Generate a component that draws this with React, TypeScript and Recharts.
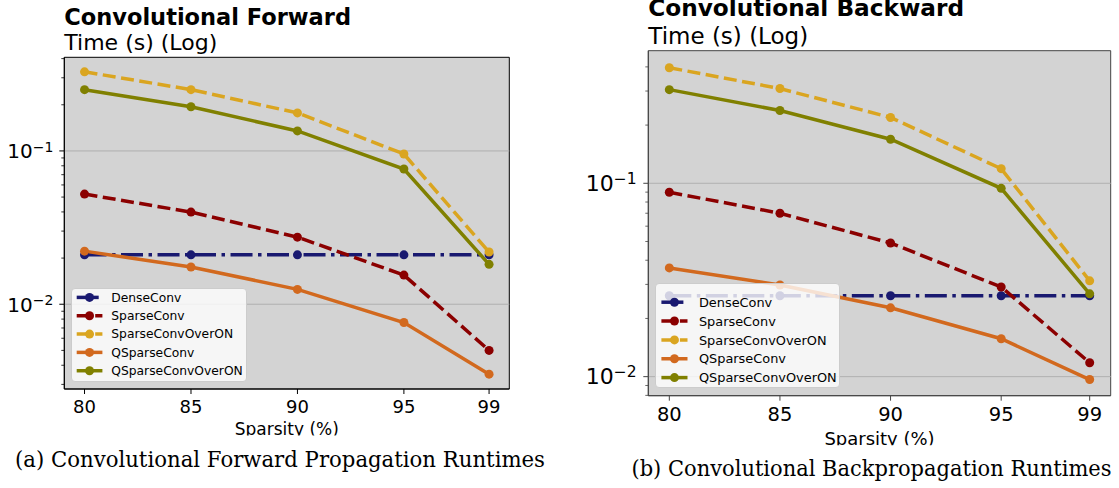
import React from 'react';
import { LineChart, Line, XAxis, YAxis, ReferenceArea, ReferenceLine, Legend } from 'recharts';

// sparsity levels (%) on the x axis
const sparsity = [80, 85, 90, 95, 99];
const xTicks = [80, 85, 90, 95, 99];
const xDomain = [79.05, 99.95];

// forward propagation runtimes (s)
const denseFwd = [0.021, 0.021, 0.021, 0.021, 0.021];
const sparseFwd = [0.0523, 0.0399, 0.0274, 0.0155, 0.005];
const sparseOnFwd = [0.328, 0.251, 0.177, 0.0955, 0.0219];
const qSparseFwd = [0.0222, 0.0175, 0.0125, 0.0076, 0.0035];
const qSparseOnFwd = [0.251, 0.194, 0.135, 0.0762, 0.0182];

// backpropagation runtimes (s)
const denseBwd = [0.0262, 0.0262, 0.0262, 0.0262, 0.0262];
const sparseBwd = [0.0899, 0.07, 0.0491, 0.0291, 0.0118];
const sparseOnBwd = [0.396, 0.309, 0.219, 0.119, 0.0313];
const qSparseBwd = [0.0365, 0.0298, 0.0227, 0.0157, 0.00966];
const qSparseOnBwd = [0.305, 0.238, 0.169, 0.0942, 0.0268];

const majorTicks = [0.01, 0.1];
const minorTicksFwd = [0.003, 0.004, 0.005, 0.006, 0.007, 0.008, 0.009, 0.02, 0.03, 0.04, 0.05, 0.06, 0.07, 0.08, 0.09, 0.2, 0.3, 0.4];
const minorTicksBwd = [0.008, 0.009, 0.02, 0.03, 0.04, 0.05, 0.06, 0.07, 0.08, 0.09, 0.2, 0.3, 0.4];

const seriesKeys = ['dense', 'sparse', 'sparseOn', 'qSparse', 'qSparseOn'];
const seriesNames = ['DenseConv', 'SparseConv', 'SparseConvOverON', 'QSparseConv', 'QSparseConvOverON'];
const seriesColors = ['#191970', '#8b0000', '#daa520', '#d2691e', '#808000'];
const seriesDashes = ['22 5.5 3.5 5.5', '13 5.5', '13 5.5', undefined, undefined];

const FONT = '"DejaVu Sans", sans-serif';
const LW = 3.5;

const buildRows = (cols: number[][]) =>
  sparsity.map((s, i) => {
    const row: any = { s };
    seriesKeys.forEach((k, j) => (row[k] = cols[j][i]));
    return row;
  });

const fwdRows = buildRows([denseFwd, sparseFwd, sparseOnFwd, qSparseFwd, qSparseOnFwd]);
const bwdRows = buildRows([denseBwd, sparseBwd, sparseOnBwd, qSparseBwd, qSparseOnBwd]);

// axis widths of 1px are added to these margins by recharts
const panels = [
  {
    id: 'fwd',
    rows: fwdRows,
    left: 0,
    width: 560,
    margin: { top: 57.3, left: 63.3, right: 50.7, bottom: 98 },
    yDomain: [0.0028, 0.408],
    minor: minorTicksFwd,
    xFont: 18,
    xTickMargin: 6,
    yFont: 20,
    supFont: 14,
    yGap: 11,
    yDy: 7.3,
    frame: '#000',
    legend: { x: 71.4, y: 288.3, w: 176, h: 93.4, row0: 9.4, step: 18.33, lx0: 4.7, lx1: 30.4, tx: 39.3, font: 12.3 },
  },
  {
    id: 'bwd',
    rows: bwdRows,
    left: 560,
    width: 559,
    margin: { top: 50.7, left: 87.3, right: 8.3, bottom: 91.3 },
    yDomain: [0.00797, 0.485],
    minor: minorTicksBwd,
    xFont: 19.5,
    xTickMargin: 6.3,
    yFont: 22,
    supFont: 15.5,
    yGap: 11.6,
    yDy: 7.7,
    frame: '#444',
    legend: { x: 94.6, y: 282.7, w: 185, h: 105.6, row0: 19.2, step: 18.85, lx0: 5.4, lx1: 31.5, tx: 42.9, font: 12.9 },
  },
];

function YTick(props: any) {
  const { x, y, payload, cfg } = props;
  const v = payload.value;
  const isMajor = majorTicks.includes(v);
  const len = isMajor ? 5 : 3;
  return (
    <g>
      <line x1={x - len} x2={x} y1={y} y2={y} stroke={cfg.frame} strokeWidth={isMajor ? 1 : 0.8} />
      {isMajor && (
        <text x={x - cfg.yGap} y={y + cfg.yDy} textAnchor="end" fontSize={cfg.yFont} fontFamily={FONT} fill="#000">
          10
          <tspan dy={-cfg.yFont * 0.32} fontSize={cfg.supFont}>
            {'\u2212' + Math.abs(Math.round(Math.log10(v)))}
          </tspan>
        </text>
      )}
    </g>
  );
}

function LegendBox({ cfg }: any) {
  const L = cfg.legend;
  return (
    <div
      style={{
        width: L.w,
        height: L.h,
        boxSizing: 'border-box',
        background: 'rgba(255,255,255,0.8)',
        border: '1px solid #cccccc',
        borderRadius: 4,
      }}
    >
      <svg width={L.w - 2} height={L.h - 2} style={{ display: 'block' }}>
        {seriesNames.map((name, i) => {
          const y = L.row0 + i * L.step - 1;
          return (
            <g key={name}>
              <line x1={L.lx0} x2={L.lx1} y1={y} y2={y} stroke={seriesColors[i]} strokeWidth={LW} strokeDasharray={seriesDashes[i]} />
              <circle cx={(L.lx0 + L.lx1) / 2} cy={y} r={4.5} fill={seriesColors[i]} />
              <text x={L.tx} y={y + L.font * 0.36} fontSize={L.font} fontFamily={FONT} fill="#000">
                {name}
              </text>
            </g>
          );
        })}
      </svg>
    </div>
  );
}

function Panel({ cfg }: any) {
  const ticks = [...majorTicks, ...cfg.minor].sort((a, b) => a - b);
  return (
    <div style={{ position: 'absolute', left: cfg.left, top: 0 }}>
      <LineChart width={cfg.width} height={488} data={cfg.rows} margin={cfg.margin} style={{ fontFamily: FONT }}>
        <XAxis
          dataKey="s"
          type="number"
          domain={xDomain}
          ticks={xTicks}
          allowDataOverflow
          interval={0}
          height={1}
          axisLine={{ stroke: cfg.frame, strokeWidth: 1 }}
          tickLine={{ stroke: cfg.frame }}
          tickSize={5}
          tickMargin={cfg.xTickMargin}
          tick={{ fill: '#000', fontSize: cfg.xFont, fontFamily: FONT }}
        />
        <YAxis
          type="number"
          scale="log"
          domain={cfg.yDomain}
          allowDataOverflow
          ticks={ticks}
          interval={0}
          width={1}
          axisLine={{ stroke: cfg.frame, strokeWidth: 1 }}
          tickLine={false}
          tickSize={0}
          tickMargin={0}
          tick={(p: any) => <YTick {...p} cfg={cfg} />}
        />
        <ReferenceArea
          x1={xDomain[0]}
          x2={xDomain[1]}
          y1={cfg.yDomain[0]}
          y2={cfg.yDomain[1]}
          fill="#d3d3d3"
          fillOpacity={1}
          stroke={cfg.frame}
          strokeWidth={1}
          ifOverflow="visible"
        />
        {majorTicks.map((t) => (
          <ReferenceLine key={t} y={t} stroke="#b0b0b0" strokeWidth={1} />
        ))}
        {seriesKeys.map((k, i) => (
          <Line
            key={k}
            dataKey={k}
            name={seriesNames[i]}
            stroke={seriesColors[i]}
            strokeWidth={LW}
            strokeDasharray={seriesDashes[i]}
            dot={{ r: 4.5, fill: seriesColors[i], stroke: seriesColors[i], strokeWidth: 0, strokeDasharray: 'none' }}
            activeDot={false}
            isAnimationActive={false}
          />
        ))}
        <Legend
          layout="horizontal"
          align="center"
          verticalAlign="middle"
          wrapperStyle={{ left: cfg.legend.x, top: cfg.legend.y, width: cfg.legend.w, height: cfg.legend.h }}
          content={() => <LegendBox cfg={cfg} />}
        />
      </LineChart>
    </div>
  );
}

export default function App() {
  return (
    <div style={{ position: 'absolute', left: 0, top: 0, width: 1119, height: 488, background: '#fff', overflow: 'hidden' }}>
      <svg width={1119} height={488} style={{ position: 'absolute', left: 0, top: 0 }}>
        <defs>
          <clipPath id="clipA">
            <rect x={0} y={0} width={560} height={435.5} />
          </clipPath>
          <clipPath id="clipB">
            <rect x={560} y={0} width={559} height={445.3} />
          </clipPath>
        </defs>
        <text x={64.3} y={25} fontSize={22.5} fontWeight="bold" fontFamily={FONT}>Convolutional Forward</text>
        <text x={64.3} y={49.5} fontSize={22} fontFamily={FONT}>Time (s) (Log)</text>
        <text x={648.3} y={16} fontSize={23.2} fontWeight="bold" fontFamily={FONT}>Convolutional Backward</text>
        <text x={648.3} y={43.5} fontSize={23} fontFamily={FONT}>Time (s) (Log)</text>
        <text x={286.8} y={435.4} fontSize={17} textAnchor="middle" fontFamily={FONT} clipPath="url(#clipA)">Sparsity (%)</text>
        <text x={879.5} y={445.1} fontSize={18} textAnchor="middle" fontFamily={FONT} clipPath="url(#clipB)">Sparsity (%)</text>
        <text x={15} y={467.3} fontSize={21.5} fontFamily='"DejaVu Serif", serif' textLength={530} lengthAdjust="spacingAndGlyphs">(a) Convolutional Forward Propagation Runtimes</text>
        <text x={631.5} y={475.5} fontSize={21.5} fontFamily='"DejaVu Serif", serif' textLength={480} lengthAdjust="spacingAndGlyphs">(b) Convolutional Backpropagation Runtimes</text>
      </svg>
      {panels.map((p) => (
        <Panel key={p.id} cfg={p} />
      ))}
    </div>
  );
}
